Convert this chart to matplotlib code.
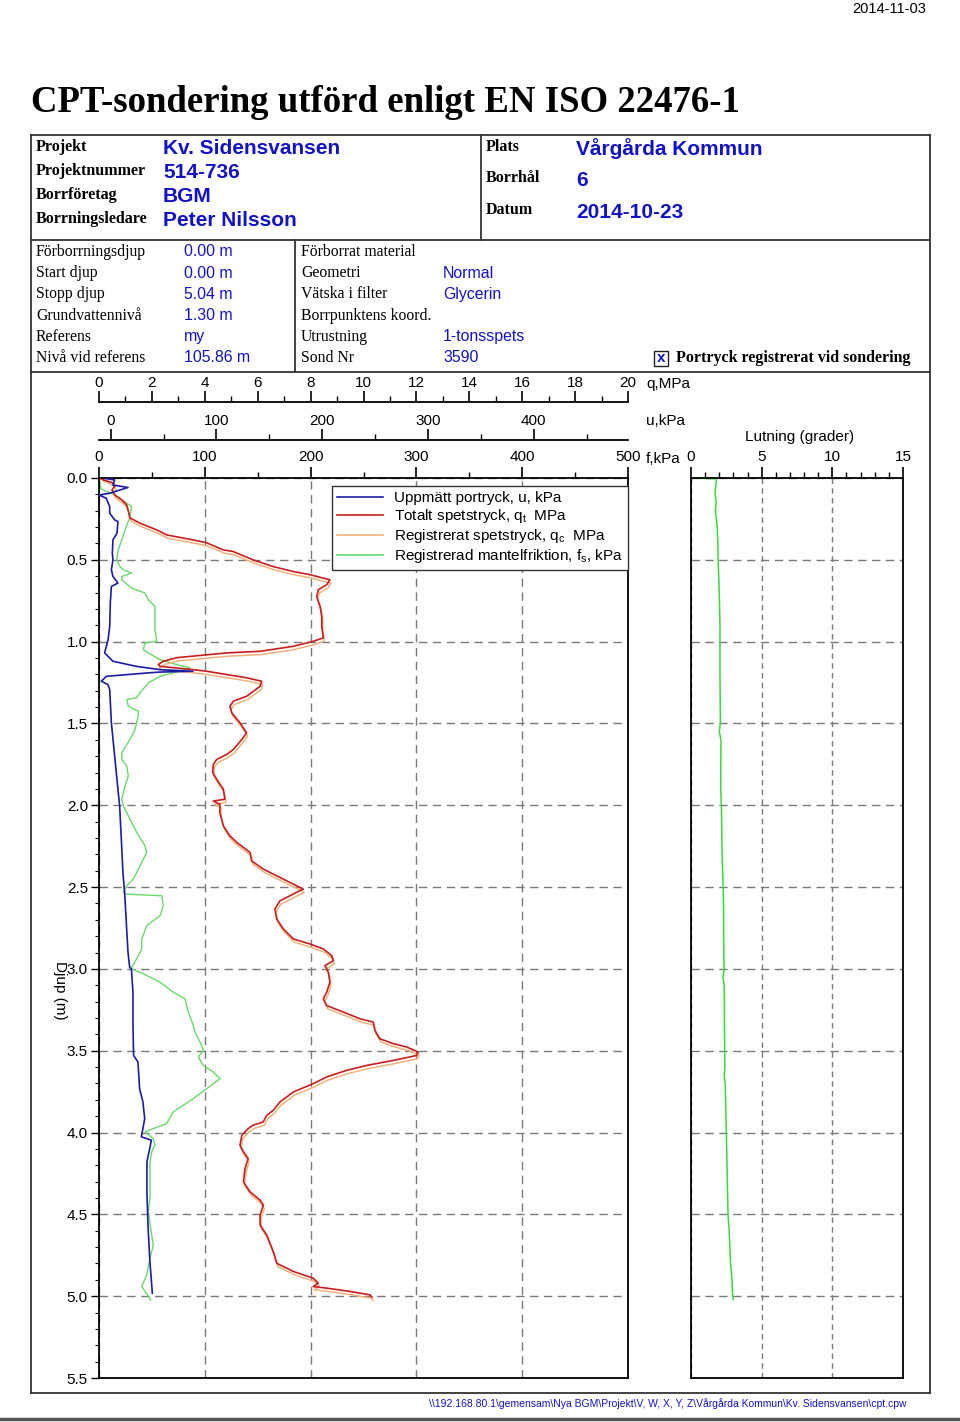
import matplotlib
matplotlib.use('Agg')
import matplotlib.pyplot as plt
from matplotlib.lines import Line2D
from matplotlib.patches import Rectangle
from matplotlib.ticker import MultipleLocator, FormatStrFormatter

plt.rcParams['font.family'] = ['Liberation Sans', 'DejaVu Sans']
plt.rcParams['mathtext.fontset'] = 'custom'
plt.rcParams['mathtext.rm'] = 'Liberation Sans'
plt.rcParams['mathtext.it'] = 'Liberation Sans:italic'

# --- data read off the sounding log ---
# total cone resistance qt (MPa) vs depth (m)
qt_depth = [0.008, 0.030, 0.049, 0.073, 0.104, 0.134, 0.165, 0.205, 0.244, 0.276,
            0.317, 0.348, 0.378, 0.396, 0.439, 0.449, 0.500, 0.541, 0.571, 0.591,
            0.622, 0.652, 0.683, 0.724, 0.785, 0.846, 0.907, 0.977, 0.998, 1.029,
            1.059, 1.069, 1.098, 1.120, 1.140, 1.151, 1.171, 1.181, 1.191, 1.221,
            1.242, 1.273, 1.334, 1.364, 1.395, 1.435, 1.496, 1.557, 1.598, 1.659,
            1.689, 1.720, 1.750, 1.801, 1.841, 1.902, 1.963, 1.974, 1.994, 2.045,
            2.126, 2.187, 2.227, 2.288, 2.340, 2.390, 2.441, 2.492, 2.512, 2.532,
            2.553, 2.584, 2.634, 2.695, 2.756, 2.817, 2.848, 2.878, 2.919, 2.949,
            2.980, 3.020, 3.081, 3.142, 3.183, 3.224, 3.264, 3.305, 3.325, 3.376,
            3.427, 3.457, 3.477, 3.508, 3.529, 3.559, 3.590, 3.620, 3.660, 3.701,
            3.752, 3.813, 3.864, 3.895, 3.935, 3.955, 3.976, 4.016, 4.077, 4.118,
            4.159, 4.220, 4.301, 4.362, 4.413, 4.443, 4.504, 4.565, 4.626, 4.728,
            4.799, 4.849, 4.890, 4.921, 4.941, 4.951, 4.971, 4.992, 5.006]
qt_mpa = [0.10, 0.53, 0.60, 0.49, 0.60, 0.86, 1.05, 1.11, 1.17, 1.55,
          2.18, 2.56, 3.55, 4.07, 4.69, 5.07, 5.82, 6.58, 7.33, 7.98,
          8.73, 8.61, 8.29, 8.23, 8.36, 8.42, 8.42, 8.48, 8.10, 7.33,
          6.09, 4.83, 2.94, 2.43, 2.24, 2.31, 3.55, 4.07, 4.45, 5.58,
          6.15, 6.09, 5.58, 5.08, 4.95, 5.02, 5.33, 5.58, 5.40, 5.08,
          4.83, 4.45, 4.32, 4.30, 4.45, 4.70, 4.76, 4.32, 4.57, 4.57,
          4.70, 4.95, 5.21, 5.71, 5.77, 6.21, 6.84, 7.47, 7.72, 7.47,
          7.22, 6.84, 6.65, 6.72, 6.97, 7.35, 7.98, 8.48, 8.80, 8.86,
          8.54, 8.67, 8.73, 8.61, 8.48, 8.61, 9.24, 9.87, 10.37, 10.43,
          10.62, 11.13, 11.63, 12.07, 12.01, 11.13, 10.12, 9.36, 8.61, 8.10,
          7.35, 6.84, 6.59, 6.34, 6.21, 5.83, 5.64, 5.40, 5.33, 5.46,
          5.64, 5.52, 5.46, 5.71, 6.09, 6.21, 6.09, 6.09, 6.34, 6.59,
          6.72, 7.35, 8.10, 8.29, 8.10, 8.61, 9.49, 10.25, 10.32]

# registered cone resistance qc (MPa)
qc_depth = [0.015, 0.050, 0.069, 0.093, 0.124, 0.154, 0.185, 0.225, 0.264, 0.296,
            0.337, 0.368, 0.398, 0.416, 0.459, 0.469, 0.520, 0.561, 0.591, 0.611,
            0.642, 0.672, 0.703, 0.744, 0.805, 0.866, 0.927, 0.997, 1.018, 1.049,
            1.079, 1.089, 1.118, 1.140, 1.160, 1.171, 1.191, 1.201, 1.211, 1.241,
            1.262, 1.293, 1.354, 1.384, 1.415, 1.455, 1.516, 1.577, 1.618, 1.679,
            1.709, 1.740, 1.770, 1.821, 1.861, 1.922, 1.983, 1.994, 2.014, 2.065,
            2.146, 2.207, 2.247, 2.308, 2.360, 2.410, 2.461, 2.512, 2.532, 2.552,
            2.573, 2.604, 2.654, 2.715, 2.776, 2.837, 2.868, 2.898, 2.939, 2.969,
            3.000, 3.040, 3.101, 3.162, 3.203, 3.244, 3.284, 3.325, 3.345, 3.396,
            3.447, 3.477, 3.497, 3.528, 3.549, 3.579, 3.610, 3.640, 3.680, 3.721,
            3.772, 3.833, 3.884, 3.915, 3.955, 3.975, 3.996, 4.036, 4.097, 4.138,
            4.179, 4.240, 4.321, 4.382, 4.433, 4.463, 4.524, 4.585, 4.646, 4.748,
            4.819, 4.869, 4.910, 4.941, 4.961, 4.971, 4.991, 5.012, 5.026]
qc_mpa = [0.14, 0.57, 0.64, 0.53, 0.64, 0.90, 1.09, 1.15, 1.21, 1.59,
          2.22, 2.60, 3.59, 4.11, 4.73, 5.11, 5.86, 6.62, 7.37, 8.02,
          8.77, 8.65, 8.33, 8.27, 8.40, 8.46, 8.46, 8.52, 8.14, 7.37,
          6.13, 4.87, 2.98, 2.47, 2.28, 2.35, 3.59, 4.11, 4.49, 5.62,
          6.19, 6.13, 5.62, 5.12, 4.99, 5.06, 5.37, 5.62, 5.44, 5.12,
          4.87, 4.49, 4.36, 4.34, 4.49, 4.74, 4.80, 4.36, 4.61, 4.61,
          4.74, 4.99, 5.25, 5.75, 5.81, 6.25, 6.88, 7.51, 7.76, 7.51,
          7.26, 6.88, 6.69, 6.76, 7.01, 7.39, 8.02, 8.52, 8.84, 8.90,
          8.58, 8.71, 8.77, 8.65, 8.52, 8.65, 9.28, 9.91, 10.41, 10.47,
          10.66, 11.17, 11.67, 12.11, 12.05, 11.17, 10.16, 9.40, 8.65, 8.14,
          7.39, 6.88, 6.63, 6.38, 6.25, 5.87, 5.68, 5.44, 5.37, 5.50,
          5.68, 5.56, 5.50, 5.75, 6.13, 6.25, 6.13, 6.13, 6.38, 6.63,
          6.76, 7.39, 8.14, 8.33, 8.14, 8.65, 9.53, 10.29, 10.36]

# measured pore pressure u (kPa)
u_depth = [0.004, 0.012, 0.043, 0.058, 0.093, 0.104, 0.124, 0.175, 0.215, 0.256,
           0.266, 0.337, 0.378, 0.459, 0.500, 0.561, 0.602, 0.642, 0.663, 0.764,
           0.907, 0.988, 1.069, 1.120, 1.151, 1.171, 1.181, 1.186, 1.191, 1.212,
           1.242, 1.262, 1.293, 1.496, 1.699, 1.902, 2.004, 2.207, 2.410, 2.532,
           2.715, 2.898, 2.990, 3.000, 3.142, 3.346, 3.529, 3.569, 3.732, 3.813,
           3.915, 3.976, 4.026, 4.047, 4.098, 4.179, 4.362, 4.565, 4.768, 4.982]
u_kpa = [-4.1, 3.8, 2.2, 16.4, -0.9, -10.9, -4.1, -0.9, -0.9, 3.8,
         6.9, 6.0, 2.2, 1.6, 2.2, 0.7, 2.2, 6.9, 0.7, -0.3,
         -0.9, -2.4, -5.7, 2.2, 24.3, 46.3, 77.8, 46.3, 35.3, -4.1,
         -8.8, -2.6, -0.9, 0.7, 3.8, 6.9, 8.5, 10.1, 11.6, 13.2,
         14.8, 16.4, 18.0, 19.6, 21.1, 21.1, 21.7, 25.8, 27.4, 30.5,
         32.2, 30.5, 29.0, 38.5, 36.9, 34.3, 34.3, 35.3, 36.9, 39.4]

# sleeve friction fs (kPa)
fs_depth = [0.012, 0.067, 0.104, 0.175, 0.236, 0.317, 0.378, 0.439, 0.500, 0.541,
            0.561, 0.581, 0.602, 0.622, 0.673, 0.703, 0.744, 0.785, 0.846, 0.927,
            0.998, 1.008, 1.049, 1.069, 1.110, 1.140, 1.160, 1.191, 1.212, 1.252,
            1.313, 1.343, 1.354, 1.395, 1.425, 1.455, 1.537, 1.598, 1.679, 1.720,
            1.760, 1.821, 1.882, 1.963, 2.004, 2.085, 2.166, 2.248, 2.288, 2.370,
            2.451, 2.492, 2.532, 2.543, 2.553, 2.614, 2.675, 2.736, 2.817, 2.878,
            2.939, 2.990, 3.000, 3.030, 3.081, 3.142, 3.183, 3.264, 3.346, 3.386,
            3.468, 3.498, 3.538, 3.590, 3.630, 3.671, 3.732, 3.793, 3.874, 3.945,
            3.976, 3.996, 4.037, 4.077, 4.118, 4.179, 4.280, 4.402, 4.484, 4.626,
            4.688, 4.768, 4.870, 4.941, 4.970, 5.023]
fs_kpa = [0.5, 1.9, 15.1, 30.9, 29.3, 24.6, 21.5, 18.2, 16.7, 19.8,
          23.0, 30.9, 21.5, 21.5, 30.9, 43.5, 46.6, 52.9, 52.9, 52.9,
          54.5, 43.5, 41.9, 46.6, 57.7, 73.4, 86.0, 70.2, 57.7, 46.6,
          38.8, 35.6, 26.2, 27.7, 37.1, 37.1, 34.0, 29.3, 21.5, 21.5,
          26.2, 27.7, 24.6, 21.5, 23.0, 29.3, 35.6, 43.5, 45.1, 38.8,
          32.4, 26.2, 23.0, 26.2, 59.3, 60.8, 57.7, 45.1, 40.4, 40.4,
          35.6, 30.9, 30.9, 41.9, 57.7, 70.2, 81.3, 84.4, 89.1, 90.7,
          97.1, 98.6, 93.9, 98.6, 108.0, 114.4, 101.8, 89.1, 70.2, 64.0,
          51.3, 43.5, 51.3, 52.9, 49.8, 48.2, 48.2, 48.2, 46.6, 49.8,
          51.3, 48.2, 45.1, 40.4, 43.5, 48.9]

# inclination (degrees)
lut_depth = [0.0, 0.005, 0.05, 0.1, 0.15, 0.2, 0.25, 0.3, 0.4, 0.5,
             0.7, 0.9, 1.2, 1.5, 1.55, 1.6, 1.9, 2.0, 2.3, 2.5,
             2.6, 2.9, 3.0, 3.05, 3.1, 3.5, 3.6, 3.65, 3.7, 4.0,
             4.2, 4.5, 4.6, 4.8, 4.9, 5.0, 5.02]
lut_deg = [0.0, 1.8, 1.75, 1.7, 1.78, 1.72, 1.8, 1.85, 1.9, 1.92,
           2.0, 2.05, 2.05, 2.08, 2.0, 2.12, 2.1, 2.15, 2.2, 2.28,
           2.3, 2.32, 2.35, 2.25, 2.35, 2.38, 2.4, 2.35, 2.42, 2.5,
           2.55, 2.62, 2.7, 2.8, 2.9, 2.95, 3.0]

header_left = ['Projekt', 'Projektnummer', 'Borrföretag', 'Borrningsledare']
header_left_val = ['Kv. Sidensvansen', '514-736', 'BGM', 'Peter Nilsson']
header_right = ['Plats', 'Borrhål', 'Datum']
header_right_val = ['Vårgårda Kommun', '6', '2014-10-23']
info_left = ['Förborrningsdjup', 'Start djup', 'Stopp djup', 'Grundvattennivå',
             'Referens', 'Nivå vid referens']
info_left_val = ['0.00 m', '0.00 m', '5.04 m', '1.30 m', 'my', '105.86 m']
info_mid = ['Förborrat material', 'Geometri', 'Vätska i filter',
            'Borrpunktens koord.', 'Utrustning', 'Sond Nr']
info_mid_val = ['', 'Normal', 'Glycerin', '', '1-tonsspets', '3590']

BLUE_TXT = '#1212c8'
C_U = '#1c1ca6'
C_QT = '#c81e1e'
C_QC = '#f0b27a'
C_FS = '#6ad86a'
C_LUT = '#3cd83c'
GRID = '#7a7a7a'

W, H = 960, 1422
fig = plt.figure(figsize=(W / 100, H / 100), dpi=100)


def fx(x):
    return x / W


def fy(y):
    return 1 - y / H


def hline(x0, x1, y, lw=1.3, color='#333333'):
    fig.add_artist(Line2D([fx(x0), fx(x1)], [fy(y), fy(y)], lw=lw, color=color,
                          transform=fig.transFigure))


def vline(x, y0, y1, lw=1.3, color='#333333'):
    fig.add_artist(Line2D([fx(x), fx(x)], [fy(y0), fy(y1)], lw=lw, color=color,
                          transform=fig.transFigure))


SERIF = 'Liberation Serif'

# title and date
fig.text(fx(31), fy(103), 'CPT-sondering utförd enligt EN ISO 22476-1', family=SERIF,
         weight='bold', size=26.5, va='center', ha='left')
fig.text(fx(926), fy(9), '2014-11-03', size=10.5, va='center', ha='right')

# frames
hline(31, 930, 135)
hline(31, 930, 240)
hline(31, 930, 372)
hline(31, 930, 1393)
vline(31, 135, 1393)
vline(930, 135, 1393)
vline(481, 135, 240)
vline(295, 240, 372)
hline(0, 960, 1419, lw=2.5, color='#555555')

# header block
for i, (lab, val) in enumerate(zip(header_left, header_left_val)):
    fig.text(fx(36), fy(147 + i * 24), lab, family=SERIF, weight='bold', size=11.5, va='center')
    fig.text(fx(163), fy(149 + i * 23.7), val, weight='bold', size=15, color=BLUE_TXT, va='center')
for i, (lab, val) in enumerate(zip(header_right, header_right_val)):
    fig.text(fx(486), fy(147 + i * 31.5), lab, family=SERIF, weight='bold', size=11.5, va='center')
    fig.text(fx(576), fy(149 + i * 31.5), val, weight='bold', size=15, color=BLUE_TXT, va='center')

for i, (lab, val) in enumerate(zip(info_left, info_left_val)):
    y = 252 + i * 21.2
    fig.text(fx(36), fy(y), lab, family=SERIF, size=11.3, va='center')
    fig.text(fx(184), fy(y), val, size=11.4, color=BLUE_TXT, va='center')
for i, (lab, val) in enumerate(zip(info_mid, info_mid_val)):
    y = 252 + i * 21.2
    fig.text(fx(301), fy(y), lab, family=SERIF, size=11.3, va='center')
    fig.text(fx(443), fy(y), val, size=11.4, color=BLUE_TXT, va='center')

fig.add_artist(Rectangle((fx(654), fy(366)), 14 / W, 15 / H, fill=False, lw=1.0,
                         edgecolor='#222222', transform=fig.transFigure))
fig.text(fx(661), fy(358), 'x', size=11, weight='bold', color=BLUE_TXT, ha='center', va='center')
fig.text(fx(676), fy(358), 'Portryck registrerat vid sondering', family=SERIF, weight='bold',
         size=11.5, va='center')

# main plot
L, R, T, B = 99, 628, 478, 1378
ax = fig.add_axes([fx(L), fy(B), (R - L) / W, (B - T) / H])
ax_q = ax.twiny()
ax_u = ax.twiny()

ax.set_xlim(0, 500)
ax.set_ylim(5.5, 0)
ax_q.set_xlim(0, 20)
ax_u.set_xlim(-11, 489)

ax.plot(fs_kpa, fs_depth, color=C_FS, lw=1.0)
ax_u.plot(u_kpa, u_depth, color=C_U, lw=1.2)
ax_q.plot(qc_mpa, qc_depth, color=C_QC, lw=1.1)
ax_q.plot(qt_mpa, qt_depth, color=C_QT, lw=1.2)

ax.xaxis.tick_top()
ax.xaxis.set_major_locator(MultipleLocator(100))
ax.xaxis.set_minor_locator(MultipleLocator(50))
ax.yaxis.set_major_locator(MultipleLocator(0.5))
ax.yaxis.set_minor_locator(MultipleLocator(0.1))
ax.yaxis.set_major_formatter(FormatStrFormatter('%.1f'))
ax.tick_params(axis='x', which='both', top=True, bottom=False, direction='out',
               labelsize=11, pad=2)
ax.tick_params(axis='x', which='major', length=8, width=1.2)
ax.tick_params(axis='x', which='minor', length=4, width=1)
ax.tick_params(axis='y', which='major', length=6, width=1, labelsize=11, pad=2)
ax.tick_params(axis='y', which='minor', length=3, width=0.8)
ax.grid(which='major', ls=(0, (6, 4)), color=GRID, lw=1)
for s in ax.spines.values():
    s.set_linewidth(1.3)

# extra scales above the plot for q and u
ax_q.spines['top'].set_position(('outward', (478 - 402) * 0.72))
ax_u.spines['top'].set_position(('outward', (478 - 440) * 0.72))
ax_q.xaxis.set_major_locator(MultipleLocator(2))
ax_q.xaxis.set_minor_locator(MultipleLocator(1))
ax_u.xaxis.set_major_locator(MultipleLocator(100))
ax_u.xaxis.set_minor_locator(MultipleLocator(50))
for tw in (ax_q, ax_u):
    for side in ('left', 'right', 'bottom'):
        tw.spines[side].set_visible(False)
    tw.spines['top'].set_linewidth(1.3)
    tw.tick_params(axis='x', which='both', direction='out', labelsize=11, pad=0.5)
    tw.tick_params(axis='x', which='major', length=8, width=1.2)
    tw.tick_params(axis='x', which='minor', length=4, width=1)

fig.text(fx(646), fy(384), 'q,MPa', size=11, va='center')
fig.text(fx(646), fy(421), 'u,kPa', size=11, va='center')
fig.text(fx(646), fy(459), 'f,kPa', size=11, va='center')
fig.text(fx(60), fy(990), 'Djup (m)', size=11, rotation=270, ha='center', va='center')

# inclination panel
ax_l = fig.add_axes([fx(691), fy(B), (903 - 691) / W, (B - T) / H])
ax_l.plot(lut_deg, lut_depth, color=C_LUT, lw=1.1)
ax_l.set_xlim(0, 15)
ax_l.set_ylim(5.5, 0)
ax_l.xaxis.tick_top()
ax_l.xaxis.set_major_locator(MultipleLocator(5))
ax_l.xaxis.set_minor_locator(MultipleLocator(1))
ax_l.yaxis.set_major_locator(MultipleLocator(0.5))
ax_l.tick_params(axis='y', left=False, labelleft=False)
ax_l.tick_params(axis='x', which='both', direction='out', labelsize=11, pad=2)
ax_l.tick_params(axis='x', which='major', length=8, width=1.2)
ax_l.tick_params(axis='x', which='minor', length=4, width=1)
ax_l.grid(axis='y', ls=(0, (6, 4)), color=GRID, lw=1)
ax_l.grid(axis='x', ls=(0, (4, 3)), color=GRID, lw=1)
for s in ax_l.spines.values():
    s.set_linewidth(1.3)
fig.text(fx(800), fy(437), 'Lutning (grader)', size=11, ha='center', va='center')

# legend
handles = [Line2D([], [], color=C_U, lw=1.2), Line2D([], [], color=C_QT, lw=1.2),
           Line2D([], [], color=C_QC, lw=1.2), Line2D([], [], color=C_FS, lw=1.2)]
labels = ['Uppmätt portryck, u, kPa',
          'Totalt spetstryck, q$_{\\rm t}$  MPa',
          'Registrerat spetstryck, q$_{\\rm c}$  MPa',
          'Registrerad mantelfriktion, f$_{\\rm s}$, kPa']
leg = fig.legend(handles, labels, loc='upper left', bbox_to_anchor=(fx(332), fy(486)),
                 frameon=True, fancybox=False, edgecolor='#333333', framealpha=1,
                 fontsize=11, handlelength=3.0, handletextpad=0.7, labelspacing=0.12,
                 borderpad=0.35, borderaxespad=0)
leg.get_frame().set_linewidth(1.0)

# footer
fig.text(fx(668), fy(1404),
         r'\\192.168.80.1\gemensam\Nya BGM\Projekt\V, W, X, Y, Z\Vårgårda Kommun\Kv. Sidensvansen\cpt.cpw',
         size=7.5, color=BLUE_TXT, ha='center', va='center')

fig.savefig('out.png', dpi=100)
